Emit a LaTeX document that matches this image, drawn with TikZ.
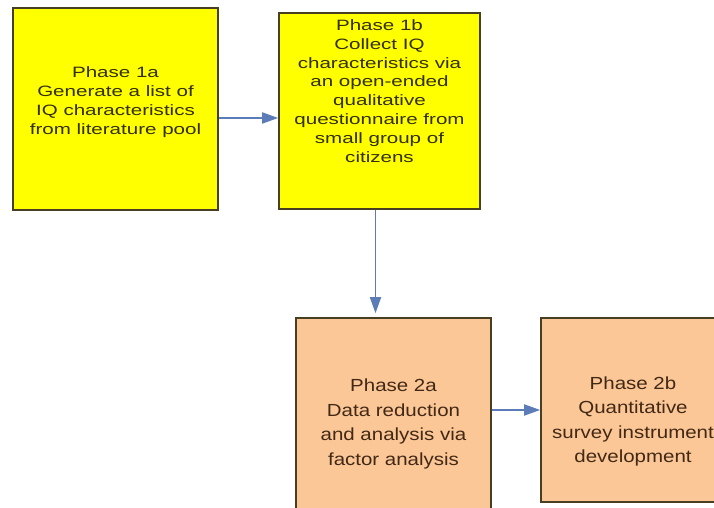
\documentclass[tikz,border=0pt]{standalone}
\usepackage{fontspec}
\newfontfamily\phasefontA[FakeStretch=1.37]{Liberation Sans}
\newfontfamily\phasefontB[FakeStretch=1.17]{Liberation Sans}
\usetikzlibrary{arrows.meta,positioning}
\definecolor{phaseyellow}{RGB}{255,255,0}
\definecolor{phasepeach}{RGB}{251,199,150}
\definecolor{boxline}{RGB}{72,62,34}
\definecolor{txtolive}{RGB}{50,46,14}
\definecolor{txtbrown}{RGB}{66,40,22}
\definecolor{flowblue}{RGB}{92,124,184}

\begin{document}
\begin{tikzpicture}[
    x=1bp, y=1bp,
    phasebox/.style={draw=boxline, line width=1.6bp, inner sep=0pt},
    yellowbox/.style={phasebox, fill=phaseyellow},
    peachbox/.style={phasebox, fill=phasepeach},
    toptext/.style={align=center, text=txtolive, font=\phasefontA\fontsize{15bp}{18.8bp}\selectfont},
    lowtext/.style={align=center, text=txtbrown, font=\phasefontB\fontsize{17.5bp}{24.5bp}\selectfont},
    flow/.style={draw=flowblue, line width=1.8bp, -{Triangle[length=16bp,width=11bp]}}
]
\useasboundingbox (0,0) rectangle (714,508);
\clip (0,0) rectangle (714,508);

% phase 1 boxes
\node[yellowbox, minimum width=205bp, minimum height=202bp] (p1a) at (115.5,399) {};
\node[yellowbox, minimum width=201bp, minimum height=196bp] (p1b) at (379.5,397) {};

% phase 2 boxes
\node[peachbox, minimum width=195bp, minimum height=212bp] (p2a) at (393.5,84) {};
\node[peachbox, minimum width=184bp, minimum height=184bp] (p2b) at (633,98) {};

% box texts
\node[toptext] (p1a-txt) at ([yshift=7bp]p1a.center) {Phase 1a\\Generate a list of\\IQ characteristics\\from literature pool};
\node[toptext] (p1b-txt) at ([yshift=20bp]p1b.center) {Phase 1b\\Collect IQ\\characteristics via\\an open-ended\\qualitative\\questionnaire from\\small group of\\citizens};
\node[lowtext] (p2a-txt) at (p2a.center) {Phase 2a\\Data reduction\\and analysis via\\factor analysis};
\node[lowtext] (p2b-txt) at ([yshift=-11.5bp]p2b.center) {Phase 2b\\Quantitative\\survey instrument\\development};

% arrows
\draw[flow] ([yshift=-9bp]p1a.east) -- ([yshift=-9bp]p1a.east -| p1b.west);
\draw[flow, shorten >=4bp] ([xshift=-4bp]p1b.south) -- ([xshift=-4bp]p1b.south |- p2a.north);
\draw[flow] (p2a.east |- p2b.west) -- (p2b.west);

\end{tikzpicture}
\end{document}
